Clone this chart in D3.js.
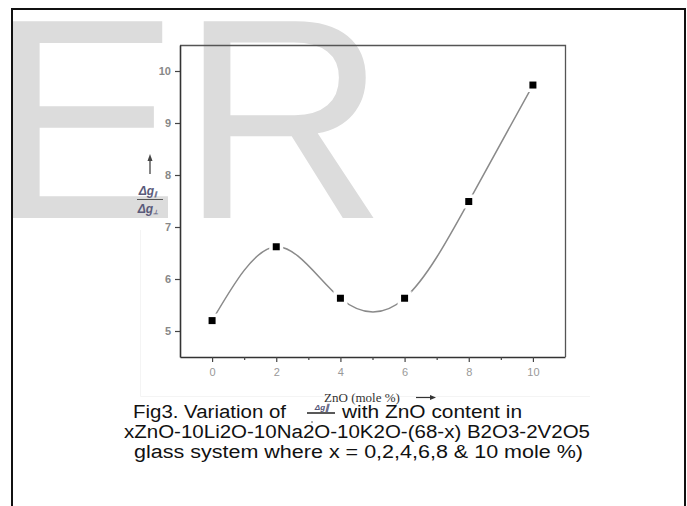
<!DOCTYPE html>
<html>
<head>
<meta charset="utf-8">
<script src="https://cdn.jsdelivr.net/npm/d3@7"></script>
<style>
  html, body { margin: 0; padding: 0; background: #fff; overflow: hidden; }
  svg { display: block; }
</style>
</head>
<body>
<svg id="chart" width="687" height="506"></svg>
<script>
// data
const znoMole = [0, 2, 4, 6, 8, 10];
const gRatio = [5.2, 6.62, 5.63, 5.63, 7.49, 9.73];
const xMajorTicks = [0, 2, 4, 6, 8, 10];
const xMinorTicks = [1, 3, 5, 7, 9];
const yTicks = [5, 6, 7, 8, 9, 10];
const captionLines = [
  'xZnO-10Li2O-10Na2O-10K2O-(68-x) B2O3-2V2O5',
  'glass system where x = 0,2,4,6,8 & 10 mole %)'
];

let svg = d3.select('#chart');

// watermark behind everything
svg.append('text')
  .attr('x', -10.5)
  .attr('y', 218)
  .attr('font-family', 'Liberation Sans, Arial, sans-serif')
  .attr('font-size', 286)
  .attr('fill', '#dcdcdc')
  .text('ER');

// outer frame of the page
svg.append('rect')
  .attr('x', 12).attr('y', 9)
  .attr('width', 673).attr('height', 520)
  .attr('fill', 'none')
  .attr('stroke', '#111')
  .attr('stroke-width', 2);

// faint edge of the embedded chart picture
svg.append('path')
  .attr('d', 'M140.5,230 V396.5 H590')
  .attr('fill', 'none')
  .attr('stroke', '#f4f4f4')
  .attr('stroke-width', 1);

// plot box
let box = {left: 180, top: 45, right: 565, bottom: 357};

let x = d3.scaleLinear().domain([-1, 11]).range([box.left, box.right]);
let y = d3.scaleLinear().domain([4.5, 10.5]).range([box.bottom, box.top]);

let g = svg.append('g');

// top and right frame
g.append('path')
  .attr('d', `M${box.left},${box.top + 0.5} H${box.right + 0.5} V${box.bottom}`)
  .attr('fill', 'none')
  .attr('stroke', '#555')
  .attr('stroke-width', 1.3);

// x axis (major + minor)
let xAxis = g.append('g')
  .attr('transform', `translate(0,${box.bottom})`)
  .call(d3.axisBottom(x).tickValues(xMajorTicks).tickSize(5).tickSizeOuter(0).tickPadding(6).tickFormat(d3.format('d')));
xAxis.select('.domain').attr('stroke', '#333').attr('stroke-width', 1.6);
xAxis.selectAll('.tick line').attr('stroke', '#444').attr('stroke-width', 1.2);
xAxis.selectAll('.tick text')
  .attr('font-family', 'Liberation Sans, Arial, sans-serif')
  .attr('font-size', 11)
  .attr('fill', '#999');

g.append('g')
  .attr('transform', `translate(0,${box.bottom})`)
  .call(d3.axisBottom(x).tickValues(xMinorTicks).tickSize(3).tickSizeOuter(0).tickFormat(''))
  .call(s => s.select('.domain').remove())
  .selectAll('.tick line').attr('stroke', '#444').attr('stroke-width', 1.2);

// y axis
let yAxis = g.append('g')
  .attr('transform', `translate(${box.left},0)`)
  .call(d3.axisLeft(y).tickValues(yTicks).tickSize(5).tickSizeOuter(0).tickPadding(4).tickFormat(d3.format('d')));
yAxis.select('.domain').attr('stroke', '#333').attr('stroke-width', 1.6);
yAxis.selectAll('.tick line').attr('stroke', '#444').attr('stroke-width', 1.2);
yAxis.selectAll('.tick text')
  .attr('font-family', 'Liberation Sans, Arial, sans-serif')
  .attr('font-size', 11)
  .attr('font-weight', 'bold')
  .attr('fill', '#888');

// smooth curve through the points
let pts = znoMole.map((v, i) => [v, gRatio[i]]);
let line = d3.line()
  .x(d => x(d[0]))
  .y(d => y(d[1]))
  .curve(d3.curveNatural);

g.append('path')
  .datum(pts)
  .attr('d', line)
  .attr('fill', 'none')
  .attr('stroke', '#8a8a8a')
  .attr('stroke-width', 1.5);

// markers, with a white halo that leaves the small gap in the curve
let marks = g.selectAll('.mark')
  .data(pts)
  .enter()
  .append('g')
  .attr('class', 'mark')
  .attr('transform', d => 'translate(' + x(d[0]) + ',' + y(d[1]) + ')');
marks.append('rect')
  .attr('x', -7).attr('y', -7).attr('width', 14).attr('height', 14)
  .attr('fill', '#fff');
marks.append('rect')
  .attr('x', -3.5).attr('y', -3.5).attr('width', 7).attr('height', 7)
  .attr('fill', '#000');

// x axis title with arrow
g.append('text')
  .attr('x', 362).attr('y', 401.5)
  .attr('text-anchor', 'middle')
  .attr('font-family', 'Liberation Serif, Times New Roman, serif')
  .attr('font-size', 13)
  .attr('fill', '#333')
  .text('ZnO (mole %)');
g.append('line')
  .attr('x1', 416).attr('x2', 431).attr('y1', 397.5).attr('y2', 397.5)
  .attr('stroke', '#333').attr('stroke-width', 1.2);
g.append('path')
  .attr('d', 'M436,397.5 L430,395 L430,400 Z')
  .attr('fill', '#333');

// y axis label: fraction with arrow above
g.append('line')
  .attr('x1', 150).attr('x2', 150).attr('y1', 174).attr('y2', 160)
  .attr('stroke', '#444').attr('stroke-width', 1.3);
g.append('path')
  .attr('d', 'M150,154 L147.5,161 L152.5,161 Z')
  .attr('fill', '#444');

let fracFont = 'Liberation Sans, Arial, sans-serif';
let num = g.append('text')
  .attr('x', 148).attr('y', 195)
  .attr('text-anchor', 'middle')
  .attr('font-family', fracFont)
  .attr('font-size', 12)
  .attr('font-style', 'italic')
  .attr('font-weight', 'bold')
  .attr('fill', '#5a5a7a');
num.append('tspan').text('Δg');
num.append('tspan').attr('font-size', 6).attr('dy', 1).text('∥');

g.append('line')
  .attr('x1', 137).attr('x2', 163).attr('y1', 199.5).attr('y2', 199.5)
  .attr('stroke', '#555').attr('stroke-width', 1);

let den = g.append('text')
  .attr('x', 148).attr('y', 213)
  .attr('text-anchor', 'middle')
  .attr('font-family', fracFont)
  .attr('font-size', 12)
  .attr('font-style', 'italic')
  .attr('font-weight', 'bold')
  .attr('fill', '#5a5a7a');
den.append('tspan').text('Δg');
den.append('tspan').attr('font-size', 6).attr('dy', 1).text('⊥');

// caption
let capFont = 'Liberation Sans, Arial, sans-serif';
let cap = svg.append('g')
  .attr('font-family', capFont)
  .attr('font-size', 18)
  .attr('fill', '#111');

cap.append('text')
  .attr('x', 133).attr('y', 418)
  .attr('textLength', 153)
  .attr('lengthAdjust', 'spacingAndGlyphs')
  .text('Fig3. Variation of');

// tiny inline fraction icon
cap.append('text')
  .attr('x', 322).attr('y', 410)
  .attr('text-anchor', 'middle')
  .attr('font-size', 8)
  .attr('font-style', 'italic')
  .attr('font-weight', 'bold')
  .attr('fill', '#557')
  .text('Δg∥');
cap.append('line')
  .attr('x1', 307).attr('x2', 335).attr('y1', 413).attr('y2', 413)
  .attr('stroke', '#222').attr('stroke-width', 1.5);
cap.append('circle')
  .attr('cx', 312).attr('cy', 422).attr('r', 0.8)
  .attr('fill', '#444');

cap.append('text')
  .attr('x', 342).attr('y', 418)
  .attr('textLength', 180)
  .attr('lengthAdjust', 'spacingAndGlyphs')
  .text('with ZnO content in');

const capSpans = [[124, 466], [134, 449]];
cap.selectAll('.capline')
  .data(captionLines)
  .enter()
  .append('text')
  .attr('class', 'capline')
  .attr('x', (d, i) => capSpans[i][0])
  .attr('y', (d, i) => 438 + i * 20)
  .attr('textLength', (d, i) => capSpans[i][1])
  .attr('lengthAdjust', 'spacingAndGlyphs')
  .text(d => d);
</script>
</body>
</html>
